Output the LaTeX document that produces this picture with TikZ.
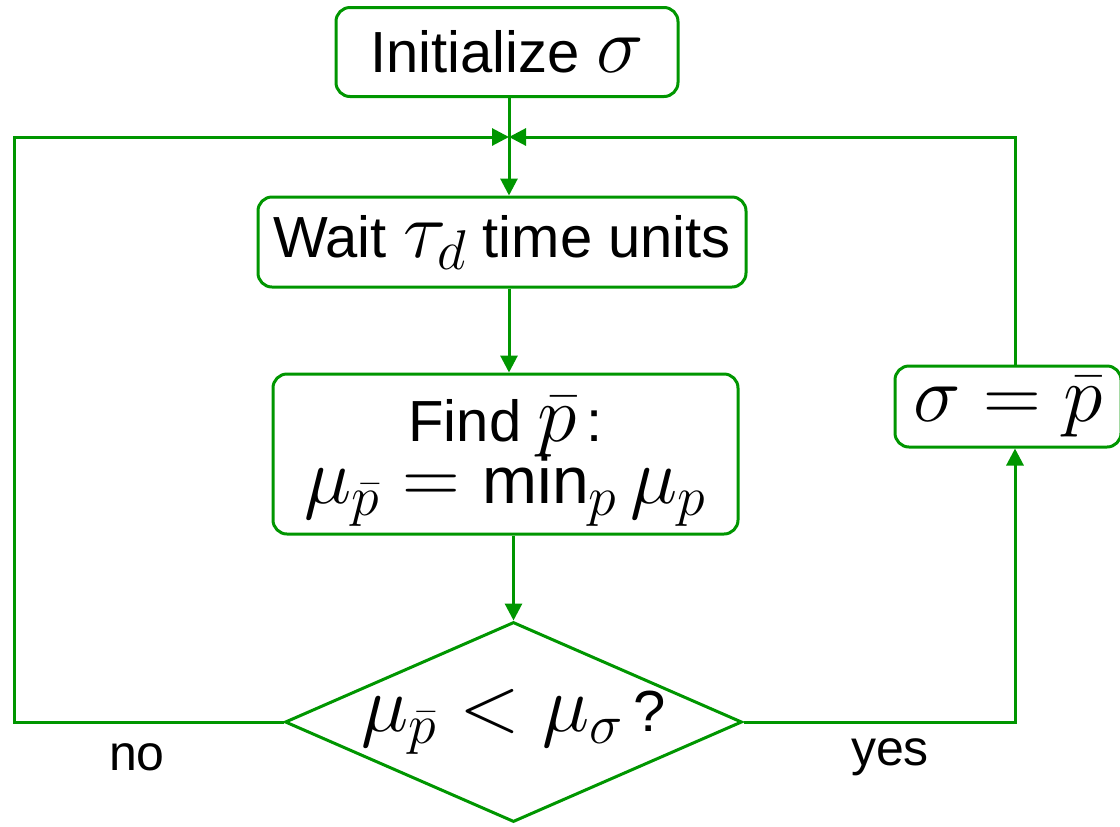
\RequirePackage{fix-cm}
\documentclass[tikz,border=0pt]{standalone}
\usepackage{fontspec}
\setmainfont{Liberation Sans}
\usetikzlibrary{shapes.geometric,arrows.meta}
\definecolor{fg}{RGB}{0,150,0}
\newcommand\Mth[1]{{\fontsize{40}{44}\selectfont$#1$}}
\newcommand\minop{\mbox{\fontsize{33}{36}\selectfont min}}
\begin{document}
\begin{tikzpicture}[x=0.5pt,y=-0.5pt,
 box/.style={draw=fg, line width=1.5pt, rounded corners=7pt, inner sep=0pt, align=center},
 dec/.style={draw=fg, line width=1.5pt, diamond, inner sep=0pt},
 conn/.style={draw=fg, line width=1.5pt},
 arr/.style={conn, -{Triangle[length=8.5pt,width=8.5pt]}},
 lbl/.style={font=\fontsize{25}{30}\selectfont},
 font=\fontsize{29}{35}\selectfont]
\useasboundingbox (0,0) rectangle (1120,826);
\node[box, minimum width=171pt, minimum height=44.5pt] (init) at (507,52) {Initialize \Mth{\sigma}};
\node[box, minimum width=244pt, minimum height=45pt] (wait) at (502,242) {Wait \Mth{\tau_d} time units};
\node[box, minimum width=232.5pt, minimum height=80pt, text height=54pt, text depth=5pt] (find) at (505.5,454) {Find \Mth{\bar p}\,:\\[-4pt] \Mth{\mu_{\bar p} = \minop_p\, \mu_p}};
\node[box, minimum width=113pt, minimum height=40.5pt] (set) at (1008,406.5) {\Mth{\sigma = \bar p}};
\node[dec, minimum width=228.5pt, minimum height=100pt] (dec) at (513.5,722) {\makebox[0pt]{\Mth{\mu_{\bar p} < \mu_\sigma}\,?}};
\coordinate (j) at (509,137);
\coordinate (ll) at (14,722);
\coordinate (lu) at (14,137);
\coordinate (rl) at (1015,722);
\coordinate (ru) at (1015,137);
\draw[conn] (j |- init.south) -- (j);
\draw[arr] (j) -- (j |- wait.north);
\draw[arr] (dec.west) -- (ll) -- (lu) -- (j);
\draw[arr] (dec.east) -- (rl) -- (rl |- set.south);
\draw[arr] (ru |- set.north) -- (ru) -- (j);
\draw[arr] (j |- wait.south) -- (j |- find.north);
\draw[arr] (dec.north |- find.south) -- (dec.north);
\node[lbl] (no) at (137,757) {no};
\node[lbl] (yes) at (890,757) {yes};
\end{tikzpicture}
\end{document}
